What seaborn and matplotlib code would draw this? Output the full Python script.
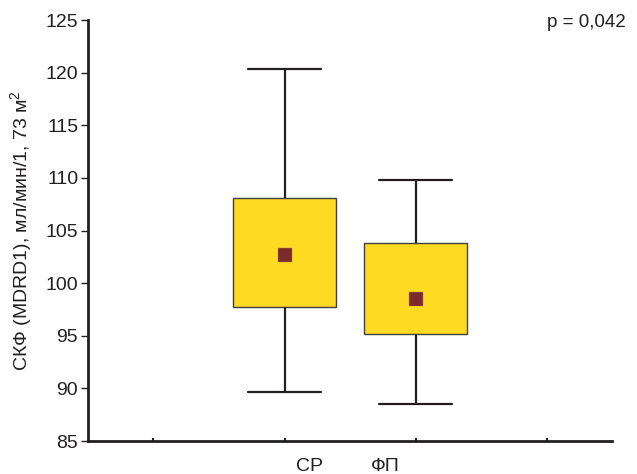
import numpy as np
import pandas as pd
import matplotlib
matplotlib.use('Agg')
import matplotlib.pyplot as plt
import seaborn as sns

# Summary values (mean, box = mean +- SE, whiskers = mean +- SD)
groups = ['СР', 'ФП']
means = [102.7, 98.5]
box_low = [97.7, 95.2]
box_high = [108.1, 103.8]
whisk_low = [89.7, 88.5]
whisk_high = [120.4, 109.8]
p_text = 'p = 0,042'

# five points per group so that the box spans box_low..box_high and whiskers min..max
rows = []
for g, wl, bl, m, bh, wh in zip(groups, whisk_low, box_low, means, box_high, whisk_high):
    for v in [wl, bl, m, bh, wh]:
        rows.append({'group': g, 'value': v})
df = pd.DataFrame(rows)
mean_df = pd.DataFrame({'group': groups, 'value': means})

sns.set_style('ticks')
plt.rcParams['font.family'] = ['Liberation Sans', 'DejaVu Sans']
plt.rcParams['mathtext.fontset'] = 'custom'
plt.rcParams['mathtext.rm'] = 'Liberation Sans'
plt.rcParams['mathtext.it'] = 'Liberation Sans'

fig = plt.figure(figsize=(6.37, 4.74), dpi=100)
ax = fig.add_axes([0.138, 0.0696, 0.823, 0.888])

order = ['_a', 'СР', 'ФП', '_b']
sns.boxplot(data=df, x='group', y='value', order=order, whis=np.inf, width=0.79,
            color='#FFDA22', saturation=1, ax=ax,
            boxprops=dict(edgecolor='#404040', linewidth=1.0),
            whiskerprops=dict(color='#231f20', linewidth=1.6),
            capprops=dict(color='#231f20', linewidth=1.6),
            medianprops=dict(visible=False),
            showfliers=False)

# widen the caps
for line in ax.lines:
    xd = np.asarray(line.get_xdata(), dtype=float)
    yd = np.asarray(line.get_ydata(), dtype=float)
    if len(xd) == 2 and yd[0] == yd[1] and xd[0] != xd[1]:
        c = xd.mean()
        line.set_xdata([c - 0.28, c + 0.28])

sns.scatterplot(data=mean_df, x='group', y='value', marker='s', s=90,
                color='#7A2C2C', edgecolor='#c07a40', linewidth=0.3, zorder=5, ax=ax)

ax.set_xlim(-0.5, 3.5)
ax.set_ylim(85, 125)
ax.set_yticks(range(85, 126, 5))
ax.set_xticks([0, 1, 2, 3])
ax.set_xticklabels([])
ax.set_xlabel('')
ax.set_ylabel('СКФ (MDRD1), мл/мин/1, 73 м$^{2}$', fontsize=14, labelpad=8, color='#231f20')

# category labels sit a bit toward the centre in the original
label_x = [1.19, 1.77]
for g, xpos in zip(groups, label_x):
    ax.text(xpos, -0.04, g, transform=ax.get_xaxis_transform(), ha='center', va='top',
            fontsize=14, color='#231f20')

ax.tick_params(axis='y', labelsize=14, length=5, width=1, pad=2, direction='out', colors='#231f20')
ax.tick_params(axis='x', length=2, width=1.5, direction='in', colors='#231f20')

sns.despine(ax=ax)
ax.spines['left'].set_linewidth(2)
ax.spines['bottom'].set_linewidth(2)
ax.spines['left'].set_color('#231f20')
ax.spines['bottom'].set_color('#231f20')

fig.text(0.982, 0.953, p_text, ha='right', va='center', fontsize=13.5, color='#231f20')

fig.savefig('out.png', dpi=100)
